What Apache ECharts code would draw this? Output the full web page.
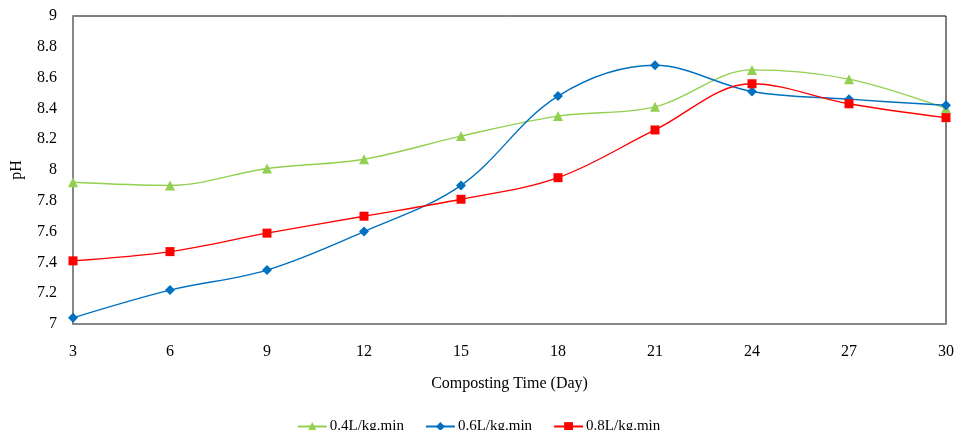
<!DOCTYPE html>
<html><head><meta charset="utf-8">
<script src="https://cdn.jsdelivr.net/npm/echarts@6/dist/echarts.min.js"></script>
<style>html,body{margin:0;padding:0;background:#fff}#c{width:957px;height:430px}</style>
</head><body><div id="c"></div>
<script>
const days = ['3','6','9','12','15','18','21','24','27','30'];
const s04 = [7.92, 7.90, 8.01, 8.07, 8.22, 8.35, 8.41, 8.65, 8.59, 8.40];
const s06 = [7.04, 7.22, 7.35, 7.60, 7.90, 8.48, 8.68, 8.51, 8.46, 8.42];
const s08 = [7.41, 7.47, 7.59, 7.70, 7.81, 7.95, 8.26, 8.56, 8.43, 8.34];
const names = ['0.4L/kg.min','0.6L/kg.min','0.8L/kg.min'];
const font = '"Liberation Serif", "DejaVu Serif", serif';
const chart = echarts.init(document.getElementById('c'));
function ser(name, data, color, symbol, size){
  return {name, type:'line', data, smooth:0.35, symbol, symbolSize:size,
    lineStyle:{color, width:1.4}, itemStyle:{color}, animation:false};
}
chart.setOption({
  animation:false,
  grid:{left:73, right:10, top:16, bottom:106, show:true, borderColor:'#000', borderWidth:1},
  legend:{top:414, left:'center', itemGap:21, itemWidth:29, itemHeight:11,
    textStyle:{fontFamily:font, fontSize:15, color:'#000', padding:[0,0,0,-2]}, data:names},
  xAxis:{type:'category', data:days, boundaryGap:false,
    name:'Composting Time (Day)', nameLocation:'middle', nameGap:52,
    nameTextStyle:{fontFamily:font, fontSize:16, color:'#000'},
    axisLine:{lineStyle:{color:'#868686', width:2}}, axisTick:{show:false},
    axisLabel:{fontFamily:font, fontSize:16, color:'#000', margin:20},
    splitLine:{show:false}},
  yAxis:{type:'value', min:7, max:9, interval:0.2,
    name:'pH', nameLocation:'middle', nameGap:48, nameRotate:90,
    nameTextStyle:{fontFamily:font, fontSize:16, color:'#000'},
    axisLine:{show:true, lineStyle:{color:'#868686', width:2}}, axisTick:{show:false},
    axisLabel:{fontFamily:font, fontSize:16, color:'#000', margin:16,
      formatter:v=>String(+v.toFixed(1))},
    splitLine:{show:false}},
  series:[
    ser(names[0], s04, '#92D050', 'triangle', 10),
    ser(names[1], s06, '#0070C0', 'diamond', 10),
    ser(names[2], s08, '#FF0000', 'rect', 9)
  ]
});
</script></body></html>
